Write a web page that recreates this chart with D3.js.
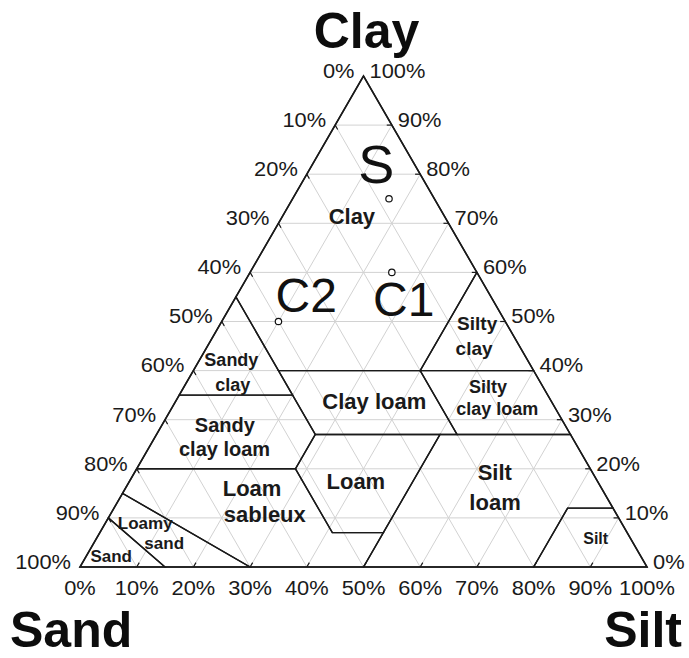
<!DOCTYPE html>
<html><head><meta charset="utf-8">
<script src="https://cdn.jsdelivr.net/npm/d3@7"></script>
<style>html,body{margin:0;padding:0;background:#fff;} svg{display:block;}</style>
</head><body>
<svg id="chart" width="689" height="658"></svg>
<script>
// ---- data ----
const ticks = [0,10,20,30,40,50,60,70,80,90,100];
const gridSteps = [10,20,30,40,50,60,70,80,90];
const axisTitles = ["Clay","Sand","Silt"];

// USDA texture classes, vertices as [sand, silt, clay]
const classNames = ["Sand","Loamy sand","Sandy loam","Loam","Silt loam","Silt",
  "Sandy clay loam","Clay loam","Silty clay loam","Sandy clay","Silty clay","Clay"];
const classPolygons = [
  [[100,0,0],[85,15,0],[90,0,10]],
  [[85,15,0],[70,30,0],[85,0,15],[90,0,10]],
  [[70,30,0],[50,50,0],[43,50,7],[52,41,7],[52,28,20],[80,0,20],[85,0,15]],
  [[43,50,7],[23,50,27],[45,28,27],[52,28,20],[52,41,7]],
  [[50,50,0],[20,80,0],[8,80,12],[0,88,12],[0,73,27],[23,50,27],[43,50,7]],
  [[20,80,0],[0,100,0],[0,88,12],[8,80,12]],
  [[80,0,20],[52,28,20],[45,28,27],[45,20,35],[65,0,35]],
  [[45,28,27],[20,53,27],[20,40,40],[45,15,40]],
  [[20,53,27],[0,73,27],[0,60,40],[20,40,40]],
  [[65,0,35],[45,20,35],[45,0,55]],
  [[20,40,40],[0,60,40],[0,40,60]],
  [[45,0,55],[45,15,40],[20,40,40],[0,40,60],[0,0,100]]
];

// class label lines: text, anchor [clay, silt], font size
const labelText = ["Clay","Silty","clay","Silty","clay loam","Clay loam","Sandy","clay",
  "Sandy","clay loam","Loam","sableux","Loam","Silt","loam","Silt","Loamy","sand","Sand"];
const labelPos = [[71.5,12.2],[49.7,45.2],[44.6,47.2],[36.7,53.6],[32.2,57.5],[33.8,35.0],
  [42.2,5.6],[37.1,8.4],[28.9,11.1],[24.0,13.5],[16.1,22.3],[10.8,27.2],[17.5,39.9],
  [19.3,63.5],[13.2,66.6],[5.9,88.0],[9.0,7.0],[4.9,12.4],[2.2,4.4]];
const labelSize = [22,19,19,18,18,22,18,18,20,20,22,22,22,22,22,16,17,17,17];

// samples: clay %, silt %
const sampleNames = ["S","C1","C2"];
const sampleClay = [75,60,50];
const sampleSilt = [17,25,10];
const sampleLabelPos = [[82.1,11.2],[54.6,29.8],[55.4,12.2]];
const sampleLabelSize = [54,48,48];

// ---- drawing ----
const svg = d3.select("#chart");
const font = "'Liberation Sans', Arial, Helvetica, sans-serif";
const xPos = d3.scaleLinear().domain([0,100]).range([80,647]);
const yPos = d3.scaleLinear().domain([0,100]).range([567,76]);
const proj = (clay, silt) => [xPos(silt + clay/2), yPos(clay)];
const line = d3.line();

// grid
const grid = svg.append("g").attr("stroke","#d2d2d2").attr("stroke-width",1).attr("fill","none");
gridSteps.forEach(k => {
  grid.append("path").attr("d", line([proj(k,0), proj(k,100-k)]));        // clay
  grid.append("path").attr("d", line([proj(0,k), proj(100-k,k)]));        // silt
  grid.append("path").attr("d", line([proj(0,100-k), proj(100-k,0)]));    // sand
});

// class boundaries
svg.append("g").selectAll("path").data(classPolygons).join("path")
  .attr("d", p => line(p.map(v => proj(v[2], v[1]))) + "Z")
  .attr("fill","none").attr("stroke","#1a1a1a").attr("stroke-width",1.4).attr("stroke-linejoin","miter");

// triangle outline
svg.append("path").attr("d", line([proj(0,0), proj(0,100), proj(100,0)]) + "Z")
  .attr("fill","none").attr("stroke","#1a1a1a").attr("stroke-width",1.6);

// ticks
const tk = svg.append("g").attr("stroke","#1a1a1a").attr("stroke-width",1.2);
ticks.slice(1,-1).forEach(k => {
  tk.append("path").attr("d", line([proj(0,k), proj(0.9,k)]));
  tk.append("path").attr("d", line([proj(100-k,0), proj(99.1-k,0.9)]));
  tk.append("path").attr("d", line([proj(k,100-k), proj(k,99.1-k)]));
});

// tick labels
const tl = svg.append("g").attr("font-family",font).attr("font-size",19.5).attr("fill","#1a1a1a");
tl.selectAll("text.l").data(ticks).join("text").attr("class","l")
  .attr("transform", v => { const [x,y] = proj(100-v,0); return `translate(${x-9},${y-5}) scale(1.12,1)`; })
  .attr("text-anchor","end").attr("dy","0.35em").text(v => v + "%");
tl.selectAll("text.r").data(ticks).join("text").attr("class","r")
  .attr("transform", v => { const [x,y] = proj(v,100-v); return `translate(${x+6},${y-5}) scale(1.12,1)`; })
  .attr("text-anchor","start").attr("dy","0.35em").text(v => v + "%");
tl.selectAll("text.b").data(ticks).join("text").attr("class","b")
  .attr("transform", v => { const [x,y] = proj(0,v); return `translate(${x},${y+21}) scale(1.12,1)`; })
  .attr("text-anchor","middle").attr("dy","0.35em").text(v => v + "%");

// axis titles
const tt = svg.append("g").attr("font-family",font).attr("font-weight","bold").attr("font-size",50).attr("fill","#0d0d0d");
const apex = proj(100,0), bl = proj(0,0), br = proj(0,100);
tt.append("text").attr("x",apex[0]+3).attr("y",apex[1]-28).attr("text-anchor","middle").text(axisTitles[0]);
tt.append("text").attr("x",bl[0]-70).attr("y",bl[1]+80).attr("text-anchor","start").text(axisTitles[1]);
tt.append("text").attr("x",br[0]+35).attr("y",br[1]+80).attr("text-anchor","end").text(axisTitles[2]);

// class labels
svg.append("g").attr("font-family",font).attr("font-weight","bold").attr("fill","#1a1a1a")
  .selectAll("text").data(labelText).join("text")
  .attr("x",(d,i) => proj(labelPos[i][0],labelPos[i][1])[0])
  .attr("y",(d,i) => proj(labelPos[i][0],labelPos[i][1])[1])
  .attr("font-size",(d,i) => labelSize[i])
  .attr("text-anchor","middle").attr("dy","0.35em").text(d => d);

// sample points
svg.append("g").selectAll("circle").data(sampleNames).join("circle")
  .attr("cx",(d,i) => proj(sampleClay[i],sampleSilt[i])[0])
  .attr("cy",(d,i) => proj(sampleClay[i],sampleSilt[i])[1])
  .attr("r",3.2).attr("fill","#fff").attr("stroke","#111").attr("stroke-width",1.2);
svg.append("g").attr("font-family",font).attr("fill","#111")
  .selectAll("text").data(sampleNames).join("text")
  .attr("x",(d,i) => proj(sampleLabelPos[i][0],sampleLabelPos[i][1])[0])
  .attr("y",(d,i) => proj(sampleLabelPos[i][0],sampleLabelPos[i][1])[1])
  .attr("font-size",(d,i) => sampleLabelSize[i])
  .attr("text-anchor","middle").attr("dy","0.36em").text(d => d);
</script>
</body></html>
